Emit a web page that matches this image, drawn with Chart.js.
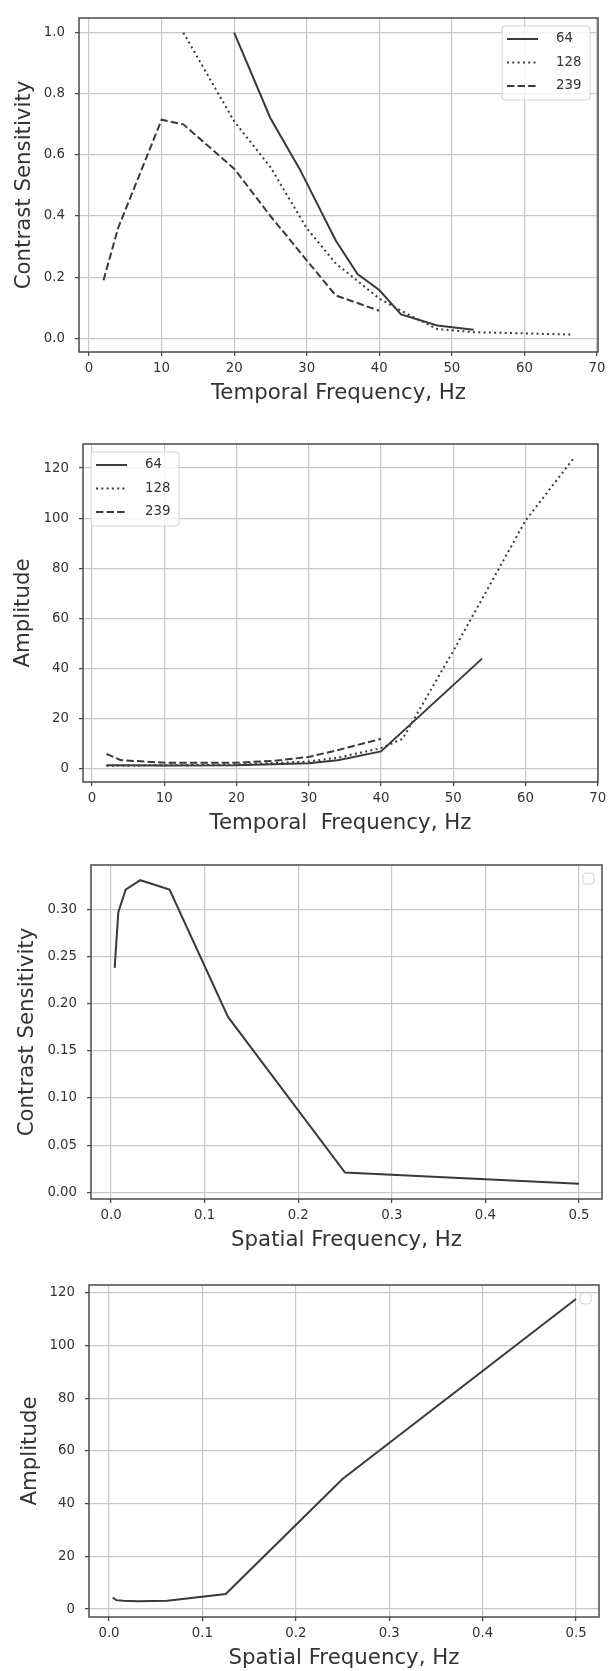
<!DOCTYPE html>
<html>
<head>
<meta charset="utf-8">
<script src="https://cdn.jsdelivr.net/npm/chart.js@4.4.1/dist/chart.umd.min.js"></script>
<style>
  html, body { margin: 0; padding: 0; background: #fff; }
  body { width: 613px; height: 1671px; position: relative; overflow: hidden; }
  .panel { position: absolute; left: 0; width: 613px; }
</style>
</head>
<body>
<div class="panel" style="top:0px"><canvas id="tfSensitivity" width="613" height="420"></canvas></div>
<div class="panel" style="top:420px"><canvas id="tfAmplitude" width="613" height="425"></canvas></div>
<div class="panel" style="top:845px"><canvas id="sfSensitivity" width="613" height="420"></canvas></div>
<div class="panel" style="top:1265px"><canvas id="sfAmplitude" width="613" height="406"></canvas></div>
<script>
// ---- data ----

// panel 1: contrast sensitivity vs temporal frequency
const tfSensX64 = [20, 25, 29, 34, 37, 40, 43, 48, 53];
const tfSensY64 = [1.0, 0.72, 0.555, 0.32, 0.21, 0.158, 0.078, 0.042, 0.028];
const tfSensX128 = [13, 20, 25, 30, 34, 40, 43, 48, 53, 66.5];
const tfSensY128 = [1.0, 0.71, 0.56, 0.36, 0.245, 0.13, 0.09, 0.03, 0.02, 0.012];
const tfSensX239 = [2, 4, 10, 13, 20, 25, 30, 34, 40];
const tfSensY239 = [0.19, 0.36, 0.715, 0.70, 0.555, 0.40, 0.255, 0.14, 0.09];

// panel 2: amplitude vs temporal frequency
const tfAmpX64 = [2, 10, 20, 30, 34, 40, 54];
const tfAmpY64 = [1.5, 1.4, 1.5, 2.3, 3.5, 7, 44];
const tfAmpX128 = [2, 10, 20, 30, 34, 40, 43, 50, 60, 66.7];
const tfAmpY128 = [1.3, 1.5, 1.7, 3, 4.5, 8.3, 12, 47, 99, 124];
const tfAmpX239 = [2, 4, 10, 20, 25, 30, 34, 40];
const tfAmpY239 = [6, 3.5, 2.5, 2.5, 3.2, 4.8, 7.5, 12];

// panels 3 and 4: spatial frequency
const sfX = [0.0039, 0.0078, 0.0156, 0.03125, 0.0625, 0.125, 0.25, 0.5];
const sfSensY = [0.238, 0.297, 0.321, 0.331, 0.321, 0.186, 0.021, 0.009];
const sfAmpY = [4.4, 3.4, 3.2, 3.0, 3.2, 5.7, 49.4, 117.7];

// tick values
const tfTicks = [0, 10, 20, 30, 40, 50, 60, 70];
const sfTicks = [0, 0.1, 0.2, 0.3, 0.4, 0.5];
const sensTicks = [0, 0.2, 0.4, 0.6, 0.8, 1.0];
const ampTicks = [0, 20, 40, 60, 80, 100, 120];
const sfSensTicks = [0, 0.05, 0.10, 0.15, 0.20, 0.25, 0.30];

// ---- styling ----
const FONT = "'DejaVu Sans', sans-serif";
const TEXT = '#333333';
const LINE = '#3a3a3a';
const GRID = '#c8c8c8';
const SPINE = '#4a4a4a';

Chart.defaults.font.family = FONT;
Chart.defaults.color = TEXT;

function points(xs, ys) {
  return xs.map((x, i) => ({ x: x, y: ys[i] }));
}

function series(label, xs, ys, dash) {
  return {
    label: label,
    data: points(xs, ys),
    borderColor: LINE,
    borderWidth: 2,
    borderDash: dash,
    pointRadius: 0,
    tension: 0,
    fill: false
  };
}

// draws the full box round the plot area (matplotlib spines)
const framePlugin = {
  id: 'frame',
  afterDatasetsDraw(chart) {
    const { ctx, chartArea } = chart;
    ctx.save();
    ctx.strokeStyle = SPINE;
    ctx.lineWidth = 1.5;
    ctx.strokeRect(chartArea.left, chartArea.top, chartArea.right - chartArea.left, chartArea.bottom - chartArea.top);
    ctx.restore();
  }
};

// legend drawn inside the plot area, like matplotlib's
const insideLegend = {
  id: 'insideLegend',
  afterDraw(chart, args, opts) {
    const { ctx, chartArea } = chart;
    const items = chart.data.datasets.filter(d => d.label);
    let w = 88, h = 74;
    if (!items.length) { w = 11; h = 11; }
    const x = opts.align === 'left' ? chartArea.left + 8 : chartArea.right - 8 - w;
    const y = chartArea.top + 8;
    ctx.save();
    ctx.beginPath();
    ctx.roundRect(x, y, w, h, 3);
    ctx.fillStyle = 'rgba(255,255,255,0.8)';
    ctx.fill();
    ctx.strokeStyle = '#d4d4d4';
    ctx.lineWidth = 1;
    ctx.stroke();
    items.forEach((ds, i) => {
      const cy = y + 13 + i * 23.5;
      ctx.setLineDash(ds.borderDash || []);
      ctx.strokeStyle = ds.borderColor;
      ctx.lineWidth = ds.borderWidth;
      ctx.beginPath();
      ctx.moveTo(x + 5, cy);
      ctx.lineTo(x + 36, cy);
      ctx.stroke();
      ctx.setLineDash([]);
      ctx.fillStyle = TEXT;
      ctx.font = '13.3px ' + FONT;
      ctx.textBaseline = 'middle';
      ctx.textAlign = 'left';
      ctx.fillText(ds.label, x + 54, cy);
    });
    ctx.restore();
  }
};

/**
 * Builds one panel.
 * box is the plot area in page pixels, top is where the canvas sits on the page.
 */
function makePanel(id, top, box, datasets, cfg) {
  const canvas = document.getElementById(id);
  const xAxisHeight = 54;
  const padding = {
    top: box.top - top,
    left: 0,
    right: 613 - box.right,
    bottom: canvas.height - (box.bottom - top) - xAxisHeight
  };

  return new Chart(canvas.getContext('2d'), {
    type: 'line',
    data: { datasets: datasets },
    options: {
      responsive: false,
      animation: false,
      layout: { padding: padding },
      plugins: {
        legend: { display: false },
        tooltip: { enabled: false },
        insideLegend: { align: cfg.legendAlign }
      },
      scales: {
        x: {
          type: 'linear',
          min: cfg.xMin,
          max: cfg.xMax,
          afterBuildTicks: s => { s.ticks = cfg.xTicks.map(v => ({ value: v })); },
          afterFit: s => { s.height = xAxisHeight; },
          ticks: {
            font: { size: 13.3 },
            color: TEXT,
            padding: 5,
            maxRotation: 0,
            autoSkip: false,
            callback: v => v.toFixed(cfg.xDecimals)
          },
          grid: { color: GRID, lineWidth: 1.2, tickColor: SPINE, tickLength: 4, tickWidth: 1.3 },
          border: { display: false },
          title: {
            display: true,
            text: cfg.xTitle,
            font: { size: 21.3 },
            color: TEXT,
            padding: { top: 0, bottom: 0 }
          }
        },
        y: {
          type: 'linear',
          min: cfg.yMin,
          max: cfg.yMax,
          afterBuildTicks: s => { s.ticks = cfg.yTicks.map(v => ({ value: v })); },
          afterFit: s => { s.width = box.left; },
          ticks: {
            font: { size: 13.3 },
            color: TEXT,
            padding: 10,
            autoSkip: false,
            callback: v => v.toFixed(cfg.yDecimals)
          },
          grid: { color: GRID, lineWidth: 1.2, tickColor: SPINE, tickLength: 4, tickWidth: 1.3 },
          border: { display: false },
          title: {
            display: true,
            text: cfg.yTitle,
            font: { size: 21.3 },
            color: TEXT,
            padding: { top: cfg.yTitlePad, bottom: 0 }
          }
        }
      }
    },
    plugins: [framePlugin, insideLegend]
  });
}

makePanel('tfSensitivity', 0, { left: 79, right: 598, top: 12, bottom: 352 }, [
  series('64', tfSensX64, tfSensY64, []),
  series('128', tfSensX128, tfSensY128, [2, 3.3]),
  series('239', tfSensX239, tfSensY239, [7.4, 3.2])
], {
  xMin: -1.38, xMax: 70.14, yMin: -0.045, yMax: 1.048,
  xTicks: tfTicks, yTicks: sensTicks, xDecimals: 0, yDecimals: 1,
  xTitle: 'Temporal Frequency, Hz', yTitle: 'Contrast Sensitivity',
  yTitlePad: 12, legendAlign: 'right'
});

makePanel('tfAmplitude', 420, { left: 83, right: 598, top: 444, bottom: 782 }, [
  series('64', tfAmpX64, tfAmpY64, []),
  series('128', tfAmpX128, tfAmpY128, [2, 3.3]),
  series('239', tfAmpX239, tfAmpY239, [7.4, 3.2])
], {
  xMin: -1.25, xMax: 70.05, yMin: -5.2, yMax: 129.6,
  xTicks: tfTicks, yTicks: ampTicks, xDecimals: 0, yDecimals: 0,
  xTitle: 'Temporal  Frequency, Hz', yTitle: 'Amplitude',
  yTitlePad: 11, legendAlign: 'left'
});

makePanel('sfSensitivity', 845, { left: 91, right: 602, top: 865, bottom: 1199 }, [
  series('', sfX, sfSensY, [])
], {
  xMin: -0.0214, xMax: 0.5246, yMin: -0.0071, yMax: 0.3471,
  xTicks: sfTicks, yTicks: sfSensTicks, xDecimals: 1, yDecimals: 2,
  xTitle: 'Spatial Frequency, Hz', yTitle: 'Contrast Sensitivity',
  yTitlePad: 15, legendAlign: 'right'
});

makePanel('sfAmplitude', 1265, { left: 89, right: 599, top: 1285, bottom: 1617 }, [
  series('', sfX, sfAmpY, [])
], {
  xMin: -0.0214, xMax: 0.5246, yMin: -3.0, yMax: 123.0,
  xTicks: sfTicks, yTicks: ampTicks, xDecimals: 1, yDecimals: 0,
  xTitle: 'Spatial Frequency, Hz', yTitle: 'Amplitude',
  yTitlePad: 18, legendAlign: 'right'
});
</script>
</body>
</html>
